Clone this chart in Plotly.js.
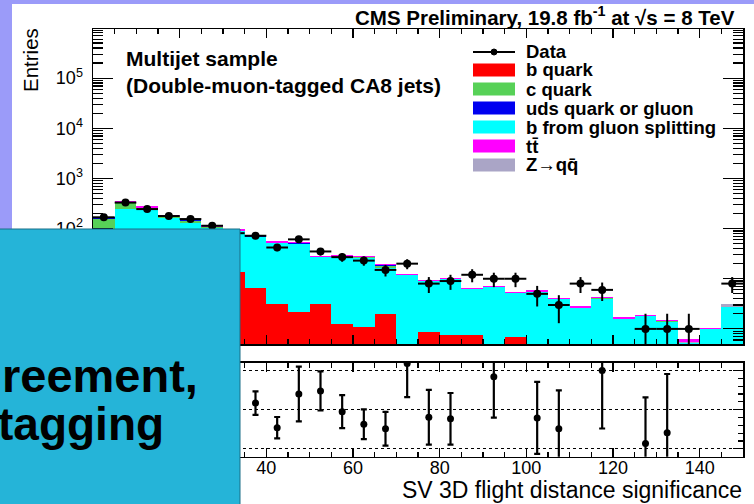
<!DOCTYPE html>
<html>
<head>
<meta charset="utf-8">
<script src="https://cdn.plot.ly/plotly-3.0.1.min.js"></script>
<style>
  html, body { margin: 0; padding: 0; background: #9b9bf9; }
  #chart { width: 754px; height: 504px; }
</style>
</head>
<body>
<div id="chart"></div>
<script>
// SV 3D flight distance significance, bins of width 5 (centres)
const binCenters = [2.5, 7.5, 12.5, 17.5, 22.5, 27.5, 32.5, 37.5, 42.5, 47.5,
                    52.5, 57.5, 62.5, 67.5, 72.5, 77.5, 82.5, 87.5, 92.5, 97.5,
                    102.5, 107.5, 112.5, 117.5, 122.5, 127.5, 132.5, 137.5, 142.5, 147.5];

// Simulated contributions (entries per bin), stacked bottom to top
const bQuark     = [15, 30, 28, 25, 20, 17, 13.8, 6.6, 3.15, 2.15,
                    3.15, 1.26, 1.08, 1.96, 0, 0.88, 0.77, 0.75, 0, 0.69,
                    0, 0, 0, 0, 0, 0, 0, 0, 0, 0];
const gluonSplit = [30, 216, 207, 135, 109, 85, 73.8, 61.4, 47.9, 47.9,
                    23.6, 25.5, 24.5, 14.6, 11.65, 7.95, 9.0, 5.42, 6.87, 4.57,
                    5.5, 3.88, 2.65, 4.0, 1.6, 1.78, 1.4, 0.52, 0.98, 2.78];
const cQuark     = [112, 80.5, 23, 14.7, 15.9, 6.1, 2.9, 1.6, 1.05, 0.4,
                    0.18, 0.67, 1.05, 1.82, 0.05, 0.02, 0.02, 0, 0, 0,
                    0.03, 0, 0, 0.11, 0, 0.03, 0.02, 0, 0.01, 0];
const udsGluon   = [12, 2, 1, 0.5, 0.5, 0.4, 0.3, 0.2, 0.15, 0.1,
                    0.05, 0.05, 0.05, 0.04, 0.02, 0.02, 0.02, 0.01, 0, 0,
                    0, 0, 0, 0, 0, 0, 0, 0, 0, 0];
const zqq        = [0.5, 1.5, 1, 0.8, 0.6, 0.5, 0.4, 0.3, 0.25, 0.25,
                    0.12, 0.12, 0.12, 0.08, 0.05, 0.04, 0.04, 0.03, 0.03, 0.02,
                    0.02, 0.02, 0.01, 0.02, 0.01, 0.01, 0.01, 0.02, 0.01, 0.3];
const ttbar      = [0.5, 20, 16, 11, 9, 7, 5.8, 4.5, 3.3, 3.2,
                    1.7, 1.8, 1.7, 1.2, 0.75, 0.55, 0.65, 0.35, 0.4, 0.1,
                    0.35, 0.24, 0.17, 0.15, 0.1, 0.08, 0.06, 0.1, 0.03, 0.02];

// Observed data (empty bins left out) and their uncertainties
const dataCounts = [168, 330, 245, 178, 155, 114, 81, 72, 42, 61,
                    35, 27, 23, 15, 20, 8, 9, 12, 10, 10,
                    5, 3, 8, 6, null, 1, 1, 1, null, 8];
const dataErr    = [13, 18.2, 15.7, 13.3, 12.4, 10.7, 9, 8.5, 6.5, 7.8,
                    5.9, 5.2, 4.8, 3.9, 4.5, 2.8, 3, 3.5, 3.2, 3.2,
                    2.2, 1.7, 2.8, 2.4, null, 1, 1, 1, null, 2.8];

// Data / simulation ratio
const ratio      = [0.99, 0.94, 0.89, 0.95, 1.0, 0.98, 0.84, 1.085, 0.77, 1.2,
                    1.24, 0.975, 0.815, 0.757, 1.59, 0.903, 0.883, 1.9, 1.42, 1.9,
                    0.895, 0.757, 2.9, 1.5, null, 0.567, 0.706, 2.0, null, 2.6];
const ratioErr   = [0.08, 0.06, 0.07, 0.08, 0.09, 0.1, 0.11, 0.15, 0.137, 0.35,
                    0.25, 0.21, 0.19, 0.215, 0.43, 0.35, 0.33, 0.25, 0.52, 0.25,
                    0.46, 0.49, 0.5, 0.74, null, 0.59, 0.75, 0.3, null, 0.8];

// Axis tick labels
const logTickVals   = [1, 10, 100, 1e3, 1e4, 1e5];
const logTickText   = ['', '', '10<sup>2</sup>', '10<sup>3</sup>', '10<sup>4</sup>', '10<sup>5</sup>'];
const xTickVals     = [0, 20, 40, 60, 80, 100, 120, 140];
const xTickText     = ['', '', '40', '60', '80', '100', '120', '140'];
const ratioTickVals = [0.5, 1, 1.5];

const sampleNames = ['b quark', 'c quark', 'uds quark or gluon', 'b from gluon splitting',
                     't\u0074\u0304', 'Z\u2192q\u0071\u0304'];

const W = 754, H = 504;
const px = x => x / W;
const py = y => 1 - y / H;
const FONT = 'Liberation Sans, Arial, Helvetica, sans-serif';

const colors = {
  b: '#ff0000', c: '#57d157', uds: '#0000f0', gsp: '#00ffff', tt: '#ff00ff', z: '#aaa5c6'
};

function stackTrace(name, values, color) {
  return {
    type: 'bar', name: name, x: binCenters, y: values,
    xaxis: 'x', yaxis: 'y',
    marker: { color: color, line: { width: 0 } },
    showlegend: false, hoverinfo: 'skip'
  };
}

const traces = [
  stackTrace('b quark', bQuark, colors.b),
  stackTrace('b from gluon splitting', gluonSplit, colors.gsp),
  stackTrace('c quark', cQuark, colors.c),
  stackTrace('uds quark or gluon', udsGluon, colors.uds),
  stackTrace('Z\u2192qq', zqq, colors.z),
  stackTrace('tt', ttbar, colors.tt),
  {
    type: 'scatter', mode: 'markers', name: 'Data',
    x: binCenters, y: dataCounts, xaxis: 'x', yaxis: 'y',
    marker: { color: 'black', size: 8 },
    error_x: { type: 'constant', value: 2.5, thickness: 2, width: 0, color: 'black' },
    error_y: { type: 'data', array: dataErr, thickness: 2, width: 0, color: 'black' },
    showlegend: false, hoverinfo: 'skip'
  },
  {
    type: 'scatter', mode: 'markers', name: 'Data / MC',
    x: binCenters, y: ratio, xaxis: 'x2', yaxis: 'y2',
    marker: { color: 'black', size: 7 },
    error_y: { type: 'data', array: ratioErr, thickness: 2.2, width: 3, color: 'black' },
    showlegend: false, hoverinfo: 'skip'
  }
];

const xDomain = [px(93), px(743)];
const frame = { showline: true, linecolor: 'black', linewidth: 1.5, mirror: 'ticks', zeroline: false,
                ticks: 'inside', tickcolor: 'black', tickwidth: 1.2 };

const layout = {
  width: W, height: H,
  margin: { l: 0, r: 0, t: 0, b: 0 },
  paper_bgcolor: '#9b9bf9',
  plot_bgcolor: 'white',
  barmode: 'stack', bargap: 0,
  showlegend: false,
  font: { family: FONT, color: 'black' },
  xaxis: Object.assign({}, frame, {
    domain: xDomain, range: [0, 150], anchor: 'y',
    dtick: 20, tick0: 0, ticklen: 9, showticklabels: false, showgrid: false,
    minor: { ticks: 'inside', dtick: 5, tick0: 0, ticklen: 5, tickcolor: 'black', showgrid: false }
  }),
  yaxis: Object.assign({}, frame, {
    domain: [py(344), py(29)], type: 'log', range: [-0.301, 5.98], anchor: 'x',
    tickmode: 'array', tickvals: logTickVals, ticktext: logTickText,
    ticklen: 20, showgrid: false,
    tickfont: { size: 18, family: FONT }, ticklabelstandoff: 5,
    minor: { ticks: 'inside', dtick: 'D1', ticklen: 10, tickcolor: 'black', showgrid: false }
  }),
  xaxis2: Object.assign({}, frame, {
    domain: xDomain, range: [0, 150], anchor: 'y2',
    tickmode: 'array', tickvals: xTickVals, ticktext: xTickText,
    ticklen: 9, showgrid: false, ticklabelstandoff: -6,
    tickfont: { size: 18, family: FONT },
    minor: { ticks: 'inside', dtick: 5, tick0: 0, ticklen: 5, tickcolor: 'black', showgrid: false }
  }),
  yaxis2: Object.assign({}, frame, {
    domain: [py(456.7), py(362.7)], range: [0.4, 1.6], anchor: 'x2',
    tickmode: 'array', tickvals: ratioTickVals, showticklabels: false, ticklen: 10,
    showgrid: true, gridcolor: 'black', griddash: 'dot', gridwidth: 1,
    minor: { ticks: 'inside', dtick: 0.1, tick0: 0, ticklen: 5, tickcolor: 'black', showgrid: false }
  }),
  shapes: [],
  annotations: []
};

// white canvas inside the lavender border
layout.shapes.push({ type: 'rect', xref: 'paper', yref: 'paper', layer: 'below',
  x0: px(12), x1: 1, y0: 0, y1: py(4), fillcolor: 'white', line: { width: 0 } });

// legend
const legendX0 = 473, legendX1 = 515, legendTextX = 524;
const rowY = [52, 70, 89, 108, 127, 146, 165];
layout.shapes.push({ type: 'line', xref: 'paper', yref: 'paper', layer: 'above',
  x0: px(legendX0), x1: px(legendX1), y0: py(rowY[0]), y1: py(rowY[0]),
  line: { color: 'black', width: 2 } });
layout.shapes.push({ type: 'circle', xref: 'paper', yref: 'paper', layer: 'above',
  x0: px(491), x1: px(497), y0: py(rowY[0] + 3), y1: py(rowY[0] - 3),
  fillcolor: 'black', line: { color: 'black', width: 1 } });
layout.annotations.push({ xref: 'paper', yref: 'paper', x: px(legendTextX), y: py(rowY[0]),
  xanchor: 'left', yanchor: 'middle', text: '<b>Data</b>', showarrow: false,
  font: { size: 18.5, family: FONT, color: 'black' } });
const swatchColors = [colors.b, colors.c, colors.uds, colors.gsp, colors.tt, colors.z];
sampleNames.forEach((name, i) => {
  const yc = rowY[i + 1];
  layout.shapes.push({ type: 'rect', xref: 'paper', yref: 'paper', layer: 'above',
    x0: px(legendX0), x1: px(legendX1), y0: py(yc + 6.5), y1: py(yc - 6.5),
    fillcolor: swatchColors[i], line: { width: 0 } });
  layout.annotations.push({ xref: 'paper', yref: 'paper', x: px(legendTextX), y: py(yc),
    xanchor: 'left', yanchor: 'middle', text: '<b>' + name + '</b>', showarrow: false,
    font: { size: 18.5, family: FONT, color: 'black' } });
});

// headers and axis titles
layout.annotations.push(
  { xref: 'paper', yref: 'paper', x: px(737), y: py(16), xanchor: 'right', yanchor: 'middle',
    text: '<b>CMS Preliminary, 19.8 fb<sup>-1</sup> at \u221As = 8 TeV</b>', showarrow: false,
    font: { size: 20.5, family: FONT, color: 'black' } },
  { xref: 'paper', yref: 'paper', x: px(124), y: py(58), xanchor: 'left', yanchor: 'middle',
    text: '<b>Multijet sample</b>', showarrow: false,
    font: { size: 21, family: FONT, color: 'black' } },
  { xref: 'paper', yref: 'paper', x: px(124), y: py(85), xanchor: 'left', yanchor: 'middle',
    text: '<b>(Double-muon-tagged CA8 jets)</b>', showarrow: false,
    font: { size: 21, family: FONT, color: 'black' } },
  { xref: 'paper', yref: 'paper', x: px(30), y: py(60), xanchor: 'center', yanchor: 'middle',
    text: 'Entries', textangle: -90, showarrow: false,
    font: { size: 20.5, family: FONT, color: 'black' } },
  { xref: 'paper', yref: 'paper', x: px(744), y: py(490), xanchor: 'right', yanchor: 'middle',
    text: 'SV 3D flight distance significance', showarrow: false,
    font: { size: 23, family: FONT, color: 'black' } }
);

// slide overlay box with its text
layout.shapes.push({ type: 'rect', xref: 'paper', yref: 'paper', layer: 'above',
  x0: -0.01, x1: px(240), y0: -0.01, y1: py(229),
  fillcolor: '#25b4d8', line: { color: '#1a6f87', width: 1 } });
layout.annotations.push(
  { xref: 'paper', yref: 'paper', x: px(200), y: py(375), xanchor: 'right', yanchor: 'middle',
    text: '<b>reement,</b>', showarrow: false,
    font: { size: 47, family: FONT, color: 'black' } },
  { xref: 'paper', yref: 'paper', x: px(166), y: py(424), xanchor: 'right', yanchor: 'middle',
    text: '<b>tagging</b>', showarrow: false,
    font: { size: 46, family: FONT, color: 'black' } }
);

Plotly.newPlot('chart', traces, layout, { displayModeBar: false, staticPlot: true });
</script>
</body>
</html>
